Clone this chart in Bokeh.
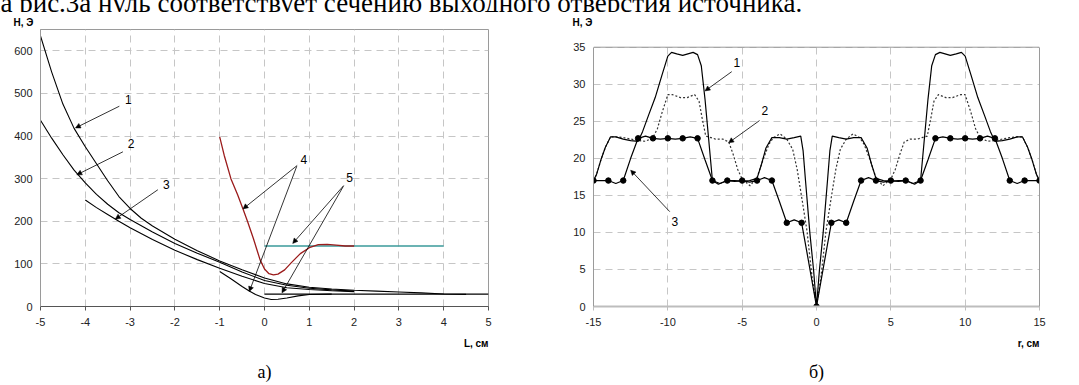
from bokeh.plotting import figure
from bokeh.models import (Label, Arrow, NormalHead, Div, FixedTicker, Range1d, Title,
                          LinearAxis, Span, Grid)
from bokeh.layouts import row, column
from bokeh.embed import file_html
from bokeh.resources import INLINE

SANS = "Liberation Sans"
SERIF = "Liberation Serif"

# ------------------------------------------------------------------ data a)
a_xticks = [-5, -4, -3, -2, -1, 0, 1, 2, 3, 4, 5]
a_yticks = [0, 100, 200, 300, 400, 500, 600]

a1_x = [-5, -4.75, -4.5, -4.25, -4, -3.75, -3.5, -3.25, -3, -2.75, -2.5, -2, -1.5, -1, -0.5,
        0, 0.5, 1, 1.5, 2, 2.5, 3, 3.5, 4, 4.5]
a1_y = [635, 550, 475, 418, 375, 335, 295, 258, 230, 207, 189, 158, 131, 107, 86,
        67, 53, 45, 41, 38, 36, 34, 32, 29.5, 28.5]

a2_x = [-5, -4.75, -4.5, -4.25, -4, -3.75, -3.5, -3.25, -3, -2.5, -2, -1.5, -1, -0.5,
        0, 0.5, 1, 1.5, 2]
a2_y = [437, 395, 356, 320, 290, 263, 240, 220, 204, 175, 148, 125, 104, 81,
        61, 50, 43, 39, 36]

a3_x = [-4, -3.75, -3.5, -3.25, -3, -2.5, -2, -1.5, -1, -0.5, 0, 0.5, 1, 1.5, 2]
a3_y = [250, 232, 216, 200, 185, 157, 132, 110, 90, 71, 54, 44, 40, 37, 35]

a4red_x = [-1, -0.9, -0.75, -0.6, -0.48, -0.38, -0.25, -0.1, 0, 0.1, 0.2, 0.3, 0.45,
           0.6, 0.8, 1, 1.2, 1.4, 1.6, 1.8, 2]
a4red_y = [398, 355, 300, 262, 229, 200, 160, 110, 88, 77, 74, 76, 86,
           103, 124, 138, 145, 146, 144, 142, 142]

a4blk_x = [-1, -0.75, -0.5, -0.35, -0.2, 0, 0.15, 0.3, 0.5, 0.75, 1, 1.5]
a4blk_y = [82, 65, 47, 37, 28, 20, 16.5, 17, 20, 25, 28, 29]

a5teal_x = [0, 4]
a5teal_y = [142, 142]
a5blk_x = [0, 5]
a5blk_y = [29, 29]

# callout labels: text, label position, arrow start -> arrow end
a_labels = ["1", "2", "3", "4", "5"]
a_label_pos = [(-3.04, 485), (-2.98, 382), (-2.19, 287), (0.88, 345), (1.9, 302)]
a_arrows = [((-3.24, 470), (-4.22, 419)),
            ((-3.16, 363), (-4.19, 309)),
            ((-2.38, 274), (-3.33, 205)),
            ((0.73, 331), (-0.48, 229)),
            ((0.72, 329), (-0.34, 35)),
            ((1.77, 284), (0.63, 148)),
            ((1.76, 282), (0.39, 32))]

# ------------------------------------------------------------------ data б)
b_xticks = [-15, -10, -5, 0, 5, 10, 15]
b_yticks = [0, 5, 10, 15, 20, 25, 30, 35]

b1_x = [-15, -14.8, -14.5, -14.2, -13.85, -13.5, -13, -12.5, -12, -11.7, -11.3, -10.85, -10.4,
        -10, -9.75, -9.4, -9, -8.65, -8.3, -8, -7.75, -7.5, -7.25, -7, -6.6, -6, -5.5, -5,
        -4.5, -4, -3.7, -3.4, -3, -2.5, -2, -1.5, -1.06, -0.9, -0.74, -0.45, -0.2, 0,
        0.2, 0.45, 0.74, 0.9, 1.06, 1.5, 2, 2.5, 3, 3.4, 3.7, 4, 4.5, 5, 5.5, 6, 6.6, 7,
        7.25, 7.5, 7.75, 8, 8.3, 8.65, 9, 9.4, 9.75, 10, 10.4, 10.85, 11.3, 11.7, 12, 12.5,
        13, 13.5, 13.85, 14.2, 14.5, 14.8, 15]
b1_y = [17, 17.8, 19.8, 21.5, 22.9, 22.9, 22.6, 22.4, 22.3, 23.6, 25.8, 28.2, 31.2,
        33.8, 34.3, 34.1, 33.9, 34.1, 34.3, 34.0, 32.5, 28, 22.5, 17, 16.5, 17, 17, 16.9,
        17, 17.3, 19.2, 21.4, 22.8, 22.8, 22.6, 22.8, 23, 21, 17, 10, 5, 0,
        5, 10, 17, 21, 23, 22.8, 22.6, 22.8, 22.8, 21.4, 19.2, 17.3, 17, 16.9, 17, 17, 16.5, 17,
        22.5, 28, 32.5, 34.0, 34.3, 34.1, 33.9, 34.1, 34.3, 33.8, 31.2, 28.2, 25.8, 23.6, 22.3, 22.4,
        22.6, 22.9, 22.9, 21.5, 19.8, 17.8, 17]

b2_x = [-15, -14.8, -14.5, -14.2, -13.85, -13.5, -13, -12.5, -12, -11.5, -11, -10.7, -10.4,
        -10, -9.7, -9.15, -8.7, -8.2, -7.9, -7.7, -7.45, -7.1, -6.8, -6.3, -5.9, -5.6, -5.3,
        -5, -4.47, -4, -3.6, -3.2, -2.9, -2.45, -2, -1.6, -1.3, -0.96, -0.64, -0.3, 0,
        0.3, 0.64, 0.96, 1.3, 1.6, 2, 2.45, 2.9, 3.2, 3.6, 4, 4.47, 5, 5.3, 5.6, 5.9, 6.3,
        6.8, 7.1, 7.45, 7.7, 7.9, 8.2, 8.7, 9.15, 9.7, 10, 10.4, 10.7, 11, 11.5, 12, 12.5,
        13, 13.5, 13.85, 14.2, 14.5, 14.8, 15]
b2_y = [17, 17.8, 19.8, 21.5, 22.9, 22.9, 22.8, 22.6, 22.4, 22.3, 22.8, 24.0, 26.1,
        28.6, 28.6, 28.2, 28.2, 28.6, 27.7, 25.5, 23.0, 22.8, 22.6, 22.6, 22.2, 20.5, 18.5,
        17.2, 16.3, 17.4, 19.8, 21.9, 22.8, 23.3, 22.6, 21.2, 18.5, 14.3, 10.2, 4, 0,
        4, 10.2, 14.3, 18.5, 21.2, 22.6, 23.3, 22.8, 21.9, 19.8, 17.4, 16.3, 17.2, 18.5, 20.5, 22.2, 22.6,
        22.6, 22.8, 23.0, 25.5, 27.7, 28.6, 28.2, 28.2, 28.6, 28.6, 26.1, 24.0, 22.8, 22.3, 22.4, 22.6,
        22.8, 22.9, 22.9, 21.5, 19.8, 17.8, 17]

b3_x = [-15, -14.5, -14, -13.5, -13, -12.5, -12, -11.5, -11, -10.5, -10, -9.5, -9, -8.5, -8,
        -7.5, -7, -6.5, -6, -5.5, -5, -4.5, -4, -3.5, -3, -2.5, -2, -1.5, -1, -0.5, 0,
        0.5, 1, 1.5, 2, 2.5, 3, 3.5, 4, 4.5, 5, 5.5, 6, 6.5, 7, 7.5, 8, 8.5, 9, 9.5, 10,
        10.5, 11, 11.5, 12, 12.5, 13, 13.5, 14, 14.5, 15]
b3_y = [17, 17, 17, 16.6, 17, 20, 22.7, 23, 22.7, 22.6, 22.7, 22.6, 22.7, 22.9, 22.7,
        19.8, 17, 16.6, 17, 16.9, 17, 16.8, 17, 17.4, 17, 14.2, 11.3, 11.7, 11.3, 5.7, 0,
        5.7, 11.3, 11.7, 11.3, 14.2, 17, 17.4, 17, 16.8, 17, 16.9, 17, 16.6, 17, 19.8, 22.7,
        22.9, 22.7, 22.6, 22.7, 22.6, 22.7, 23, 22.7, 20, 17, 16.6, 17, 17, 17]

b3m_x = [-15, -14, -13, -12, -11, -10, -9, -8, -7, -6, -5, -4, -3, -2, -1, 0,
         1, 2, 3, 4, 5, 6, 7, 8, 9, 10, 11, 12, 13, 14, 15]
b3m_y = [17, 17, 17, 22.7, 22.7, 22.7, 22.7, 22.7, 17, 17, 17, 17, 17, 11.3, 11.3, 0,
         11.3, 11.3, 17, 17, 17, 17, 17, 22.7, 22.7, 22.7, 22.7, 22.7, 17, 17, 17]

b_labels = ["1", "2", "3"]
b_label_pos = [(-5.36, 33.0), (-3.47, 26.5), (-9.53, 11.5)]
b_arrows = [((-5.7, 31.7), (-7.5, 29.1)),
            ((-3.83, 25.1), (-5.91, 22.1)),
            ((-9.87, 12.8), (-12.5, 18.4))]

caption_text = "на рис.3а нуль соответствует сечению выходного отверстия источника."

GRID_COLOR = "#c6c6c6"
FRAME_COLOR = "#9a9a9a"


def base_style(p, xticks, yticks, bottom_color, bottom_width):
    p.xaxis.ticker = FixedTicker(ticks=xticks)
    p.yaxis.ticker = FixedTicker(ticks=yticks)
    p.xaxis.major_label_overrides = {t: str(t) for t in xticks}
    for g in (p.xgrid, p.ygrid):
        g.grid_line_color = GRID_COLOR
        g.grid_line_dash = "7 5"
        g.grid_line_width = 1
    p.outline_line_color = FRAME_COLOR
    p.outline_line_width = 1
    p.background_fill_color = "white"
    p.border_fill_color = "white"
    for ax in (p.xaxis, p.yaxis):
        ax.major_label_text_font = SANS
        ax.major_label_text_font_size = "11px"
        ax.major_label_text_color = "#222222"
        ax.minor_tick_line_color = None
    p.xaxis.axis_line_color = bottom_color
    p.xaxis.axis_line_width = bottom_width
    p.xaxis.major_tick_line_color = bottom_color
    p.xaxis.major_tick_out = 4
    p.xaxis.major_tick_in = 0
    p.xaxis.major_label_standoff = 7
    p.yaxis.axis_line_color = FRAME_COLOR
    p.yaxis.major_tick_line_color = None
    p.yaxis.major_tick_out = 0
    p.yaxis.major_tick_in = 0
    p.yaxis.major_label_standoff = 8


def callouts(p, labels, label_pos, arrows):
    for t, (lx, ly) in zip(labels, label_pos):
        p.add_layout(Label(x=lx, y=ly, text=t, text_font=SANS, text_font_size="12px",
                           text_align="center", text_baseline="middle", text_color="black"))
    for (xs, ys), (xe, ye) in arrows:
        p.add_layout(Arrow(end=NormalHead(size=5, fill_color="black", line_color="black",
                                          line_width=0.5),
                           x_start=xs, y_start=ys, x_end=xe, y_end=ye,
                           line_color="black", line_width=0.8))


def titles(p, ylab, ylab_offset, ylab_standoff, xlab, cap, cap_offset, cap_standoff):
    p.add_layout(Title(text=ylab, align="left", offset=ylab_offset, standoff=ylab_standoff,
                       text_font=SANS, text_font_size="10px", text_font_style="bold",
                       text_color="black"), "above")
    p.add_layout(Title(text=xlab, align="right", standoff=15,
                       text_font=SANS, text_font_size="10px", text_font_style="bold",
                       text_color="black"), "below")
    p.add_layout(Title(text=cap, align="center", offset=cap_offset, standoff=cap_standoff,
                       text_font=SERIF, text_font_size="18px", text_font_style="normal",
                       text_color="black"), "below")


# ------------------------------------------------------------------ figure a)
pa = figure(title=None, frame_width=448, frame_height=277,
            min_border_left=40, min_border_right=40, min_border_top=17, min_border_bottom=78,
            x_range=Range1d(-5, 5), y_range=Range1d(0, 650),
            output_backend="svg", toolbar_location=None)
base_style(pa, a_xticks, a_yticks, "#555555", 1)

pa.line(a1_x, a1_y, line_color="black", line_width=1.1)
pa.line(a2_x, a2_y, line_color="black", line_width=1.1)
pa.line(a3_x, a3_y, line_color="black", line_width=1.1)
pa.line(a5blk_x, a5blk_y, line_color="black", line_width=1.1)
pa.line(a4blk_x, a4blk_y, line_color="black", line_width=1.1)
pa.line(a5teal_x, a5teal_y, line_color="#3a9a9a", line_width=1.6)
pa.line(a4red_x, a4red_y, line_color="#9b1b1b", line_width=1.3)

callouts(pa, a_labels, a_label_pos, a_arrows)
titles(pa, "Н, Э", -27, 4, "L, см", "а)", 0, 6)

# ------------------------------------------------------------------ figure б)
# frame shares top edge with figure a) (the row aligns them); the plotted box 0..35
# is drawn inside it with its own top/right edges
b_ymax = b_yticks[-1]
pb = figure(title=None, frame_width=446, frame_height=277,
            min_border_left=65, min_border_right=36, min_border_top=17, min_border_bottom=78,
            x_range=Range1d(b_xticks[0], b_xticks[-1]), y_range=Range1d(0, 37.39),
            output_backend="svg", toolbar_location=None)
base_style(pb, b_xticks, b_yticks, "#bdbdbd", 2)
pb.outline_line_color = None
pb.yaxis.bounds = (0, b_ymax)

if "cross_bounds" in Grid.properties():
    pb.xgrid.cross_bounds = (0, b_ymax)
else:
    pb.xgrid.visible = False
    inner = b_xticks[1:-1]
    pb.segment(x0=inner, y0=[0] * len(inner), x1=inner, y1=[b_ymax] * len(inner),
               line_color=GRID_COLOR, line_dash="7 5", line_width=1)

pb.add_layout(Span(location=b_ymax, dimension="width", line_color=FRAME_COLOR, line_width=1))
raxis = LinearAxis(bounds=(0, b_ymax), ticker=FixedTicker(ticks=[]),
                   axis_line_color=FRAME_COLOR, major_tick_line_color=None,
                   minor_tick_line_color=None, major_label_text_font_size="0px")
pb.add_layout(raxis, "right")

pb.line(b2_x, b2_y, line_color="#333333", line_width=1.2, line_dash="2 2")
pb.line(b1_x, b1_y, line_color="black", line_width=1.2)
pb.line(b3_x, b3_y, line_color="black", line_width=1.2)
pb.scatter(b3m_x, b3m_y, size=5.5, marker="circle", fill_color="black", line_color="black")

callouts(pb, b_labels, b_label_pos, b_arrows)
titles(pb, "Н, Э", -21, 3, "r, см", "б)", 6, 6)

top = Div(text=('<div style="font-family:\'Liberation Serif\';font-size:27px;line-height:27px;'
                'margin-top:-14px;margin-left:-14px;white-space:nowrap;color:black">'
                + caption_text + '</div>'),
          width=1070, height=12, margin=(0, 0, 0, 0), styles={"overflow": "hidden"})

layout = column(top, row(pa, pb))

with open("out.html", "w") as f:
    f.write(file_html(layout, INLINE))
